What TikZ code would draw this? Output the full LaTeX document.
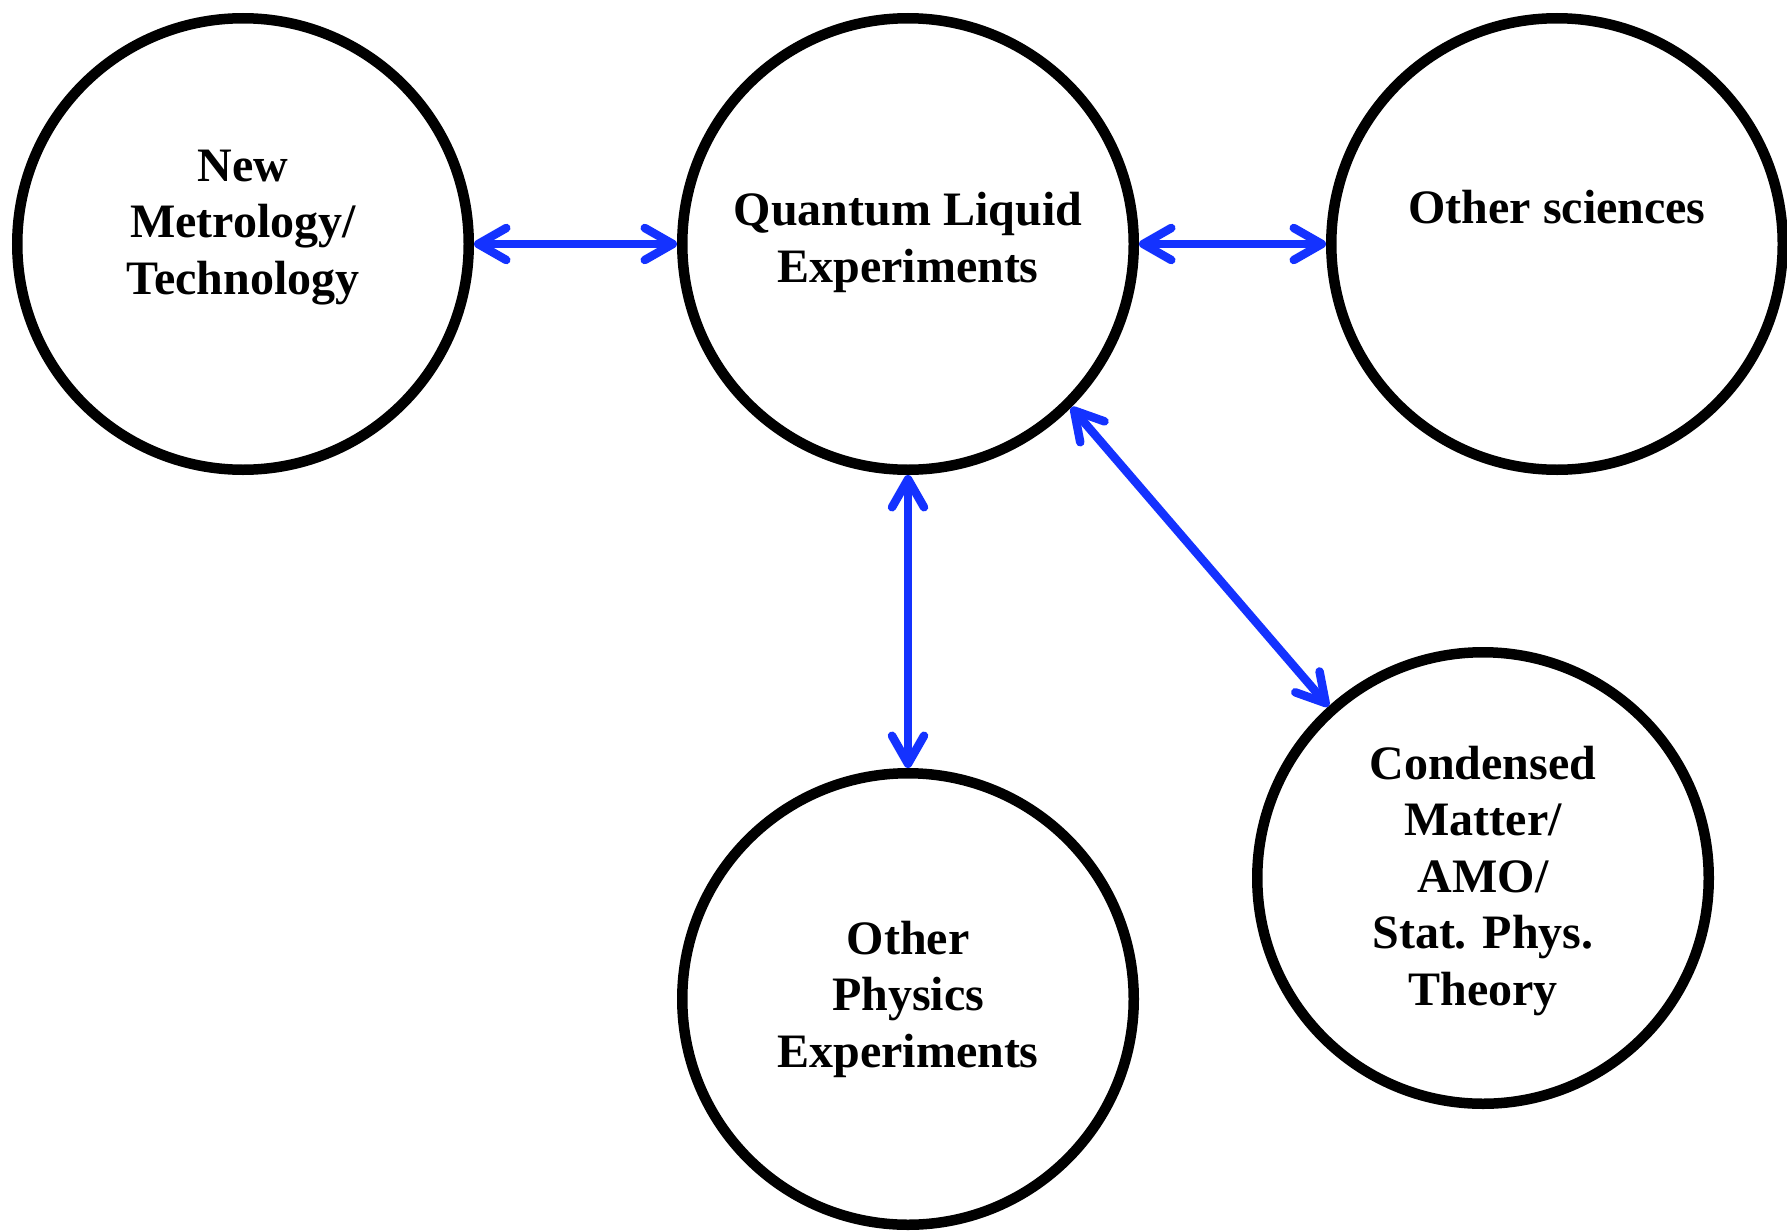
\documentclass[tikz,border=0pt]{standalone}
\usepackage{fontspec}
\setmainfont{Liberation Serif}
\usetikzlibrary{arrows.meta}
\definecolor{linkblue}{RGB}{20,50,255}
\begin{document}
\begin{tikzpicture}[x=1pt,y=-1pt,
  topic/.style={circle,draw=black,line width=10.5pt,fill=white,
    minimum size=451.5pt,inner sep=0pt},
  topictext/.style={align=center,anchor=base,inner sep=0pt,
    font=\fontsize{48}{56.5}\selectfont\bfseries},
  link/.style={draw=linkblue,line width=8.5pt,
    {Straight Barb[length=28pt,width=32pt,round]}-{Straight Barb[length=28pt,width=32pt,round]}}
]
\useasboundingbox (0,0) rectangle (1787,1231);

% research areas
\node[topic] (nmt) at (243,244) {};
\node[topic] (qle) at (908,244) {};
\node[topic] (osc) at (1557,244) {};
\node[topic] (ope) at (908,999) {};
\node[topic] (cmt) at (1483,878) {};

% titles, placed by the baseline of their last line
\node[topictext] (nmt-t) at (243,294) {New\\Metrology/\\Technology};
\node[topictext] (qle-t) at (908,282) {Quantum Liquid\\Experiments};
\node[topictext] (osc-t) at (1557,223) {Other sciences};
\node[topictext] (ope-t) at (908,1067) {Other\\Physics\\Experiments};
\node[topictext] (cmt-t) at (1483,1005) {Condensed\\Matter/\\AMO/\\Stat. Phys.\\Theory};

% two-way links
\draw[link] (nmt.east) -- (qle.west);
\draw[link] (qle.east) -- (osc.west);
\draw[link] (qle.south) -- (ope.north);
\draw[link] (qle.-45) -- (cmt.132);
\end{tikzpicture}
\end{document}
